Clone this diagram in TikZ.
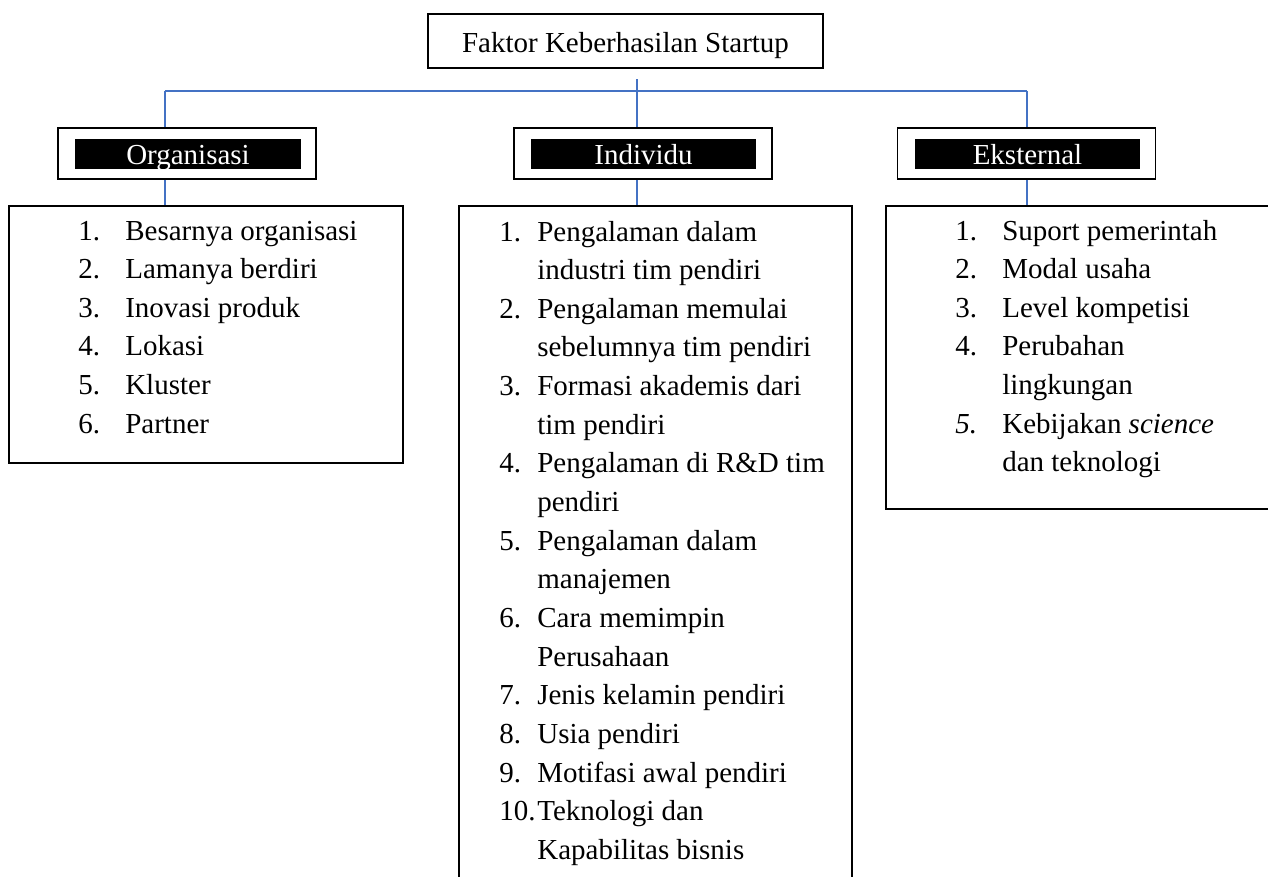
\documentclass[tikz,border=0pt]{standalone}
\usepackage{fontspec}
\setmainfont{Liberation Serif}
\definecolor{linkblue}{RGB}{68,114,196}

\tikzset{
	headbox/.style={draw, line width=0.9pt, minimum width=5.16cm, minimum height=1.02cm, inner sep=0pt},
	headbar/.style={fill=black, text=white, minimum width=4.52cm, minimum height=0.6cm, inner sep=0pt, text height=12.5pt, text depth=0pt},
	listbox/.style={draw, line width=0.9pt, anchor=north west, inner sep=0pt},
	listtext/.style={anchor=base west, inner sep=0pt},
	link/.style={draw=linkblue, line width=1pt}
}

\begin{document}
\begin{tikzpicture}[x=0.02cm, y=-0.02cm, font=\fontsize{16.5}{22}\selectfont]
		%%%%% START %%%%%
		\useasboundingbox (0, 0) rectangle (1268, 876);
		\clip (0, 0) rectangle (1268, 876);
		
		\node[draw, line width=0.9pt, minimum width=7.9cm, minimum height=1.08cm, text height=13pt, text depth=0pt] (title) at (625.5, 41) {Faktor Keberhasilan Startup};
		
		\node[headbox] (orghead) at (187, 153.5) {};
		\node[headbar] (orgbar) at (188, 154) {Organisasi};
		
		\node[headbox] (indhead) at (643, 153.5) {};
		\node[headbar] (indbar) at (643.5, 154) {Individu};
		
		\node[headbox] (ekshead) at (1026.5, 153.5) {};
		\node[headbar] (eksbar) at (1027.5, 154) {Eksternal};
		
		%% list boxes
		\node[listbox, minimum width=7.88cm, minimum height=5.14cm] (orglist) at (8, 205) {};
		\node[listbox, minimum width=7.86cm, minimum height=14cm] (indlist) at (458, 205) {};
		\node[listbox, minimum width=8.1cm, minimum height=6.06cm] (ekslist) at (885, 205) {};
		
		\node[listtext] (orgitems) at (78, 240) {\begin{tabular}[t]{@{}p{0.94cm}@{}l@{}}
			1. & Besarnya organisasi\\
			2. & Lamanya berdiri\\
			3. & Inovasi produk\\
			4. & Lokasi\\
			5. & Kluster\\
			6. & Partner
		\end{tabular}};
		
		\node[listtext] (inditems) at (499, 241) {\begin{tabular}[t]{@{}p{0.76cm}@{}l@{}}
			1. & Pengalaman dalam\\
			   & industri tim pendiri\\
			2. & Pengalaman memulai\\
			   & sebelumnya tim pendiri\\
			3. & Formasi akademis dari\\
			   & tim pendiri\\
			4. & Pengalaman di R\&D tim\\
			   & pendiri\\
			5. & Pengalaman dalam\\
			   & manajemen\\
			6. & Cara memimpin\\
			   & Perusahaan\\
			7. & Jenis kelamin pendiri\\
			8. & Usia pendiri\\
			9. & Motifasi awal pendiri\\
			10.& Teknologi dan\\
			   & Kapabilitas bisnis
		\end{tabular}};
		
		\node[listtext] (eksitems) at (955, 240) {\begin{tabular}[t]{@{}p{0.94cm}@{}l@{}}
			1. & Suport pemerintah\\
			2. & Modal usaha\\
			3. & Level kompetisi\\
			4. & Perubahan\\
			   & lingkungan\\
			\textit{5.} & Kebijakan \textit{science}\\
			   & dan teknologi
		\end{tabular}};
		
		%% connectors
		\coordinate (hubtop) at (637, 79);
		\coordinate (jorg) at (165, 91);
		\coordinate (jeks) at (1027, 91);
		
		\draw[link] (jorg) -- (jeks);
		\draw[link] (hubtop) -- (hubtop |- indhead.north);
		\draw[link] (jorg) -- (jorg |- orghead.north);
		\draw[link] (jeks) -- (jeks |- ekshead.north);
		
		\draw[link] (orghead.south -| jorg) -- (orglist.north -| jorg);
		\draw[link] (indhead.south -| hubtop) -- (indlist.north -| hubtop);
		\draw[link] (ekshead.south -| jeks) -- (ekslist.north -| jeks);
		
		%%%%% END %%%%%
	\end{tikzpicture}
\end{document}
